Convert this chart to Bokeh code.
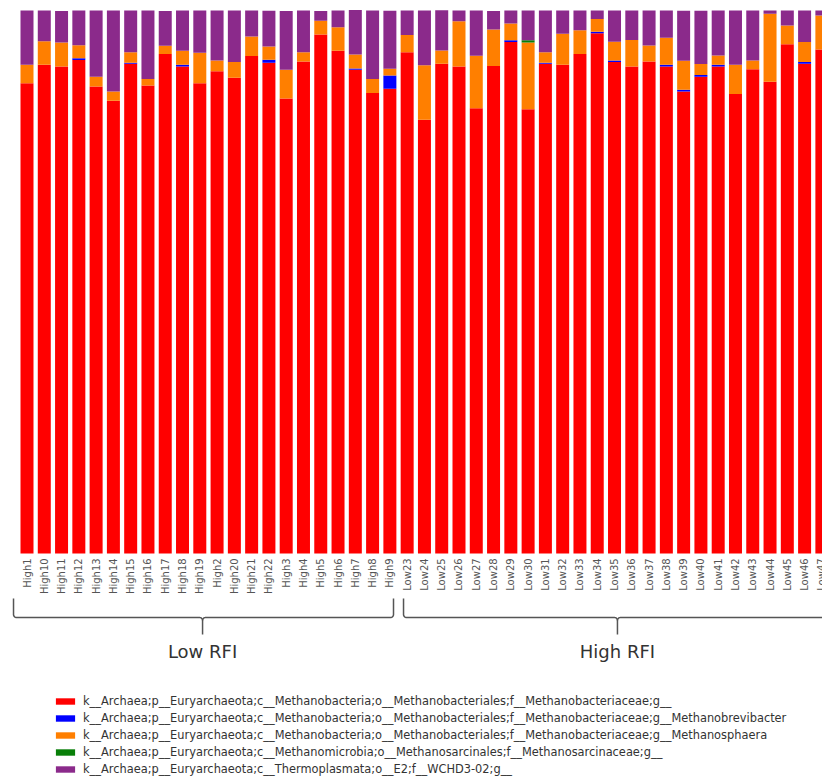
import math
from bokeh.plotting import figure
from bokeh.models import Range1d, Legend, LegendItem, ColumnDataSource
from bokeh.core.properties import value
from bokeh.embed import file_html
from bokeh.resources import INLINE

# ---------------- data ----------------
samples = ["High1", "High10", "High11", "High12", "High13", "High14", "High15", "High16",
           "High17", "High18", "High19", "High2", "High20", "High21", "High22", "High3",
           "High4", "High5", "High6", "High7", "High8", "High9",
           "Low23", "Low24", "Low25", "Low26", "Low27", "Low28", "Low29", "Low30", "Low31",
           "Low32", "Low33", "Low34", "Low35", "Low36", "Low37", "Low38", "Low39", "Low40",
           "Low41", "Low42", "Low43", "Low44", "Low45", "Low46", "Low47"]

# relative abundance, percent
red = [86.6, 90.0, 89.7, 90.9, 86.0, 83.4, 90.2, 86.2, 92.0, 89.7, 86.6, 88.8, 87.6, 91.6,
       90.4, 83.8, 90.6, 95.6, 92.6, 89.1, 84.8, 85.6,
       92.3, 79.9, 90.2, 89.7, 82.0, 89.8, 94.2, 81.8, 90.2, 90.0, 92.0, 95.8, 90.5, 89.7,
       90.6, 89.7, 85.1, 87.8, 89.7, 84.6, 89.2, 86.9, 93.8, 90.2, 92.8]
blue = [0, 0, 0, 0.3, 0, 0, 0.2, 0, 0, 0.3, 0, 0, 0, 0, 0.55, 0, 0, 0, 0, 0.2, 0, 2.45,
        0, 0, 0, 0, 0, 0, 0.3, 0, 0.2, 0, 0, 0.3, 0.3, 0, 0, 0.3, 0.3, 0.3, 0.3, 0, 0,
        0, 0, 0.3, 0]
orange = [3.4, 4.35, 4.4, 2.4, 1.8, 1.7, 1.9, 1.2, 1.5, 2.6, 5.6, 2.0, 2.9, 3.6, 2.4, 5.3,
          1.7, 2.5, 4.3, 2.6, 2.6, 1.2,
          3.2, 10.0, 2.45, 8.3, 9.65, 6.7, 3.1, 12.3, 1.9, 5.7, 4.35, 2.35, 3.45, 4.85, 2.95,
          5.0, 5.35, 2.05, 1.7, 5.4, 1.6, 12.5, 3.45, 3.7, 6.3]
green = [0, 0, 0, 0, 0, 0, 0, 0, 0, 0, 0, 0, 0, 0, 0, 0, 0, 0, 0, 0, 0, 0,
         0, 0, 0, 0, 0, 0, 0, 0.4, 0, 0, 0, 0, 0, 0, 0, 0, 0, 0, 0, 0, 0, 0, 0, 0, 0]
purple = [10.0, 5.65, 5.8, 6.4, 12.2, 14.9, 7.7, 12.6, 6.4, 7.4, 7.8, 9.2, 9.5, 4.8, 6.6,
          10.8, 7.7, 1.8, 3.1, 8.2, 12.6, 10.7,
          4.5, 10.1, 7.4, 2.0, 8.35, 3.4, 2.4, 5.5, 7.7, 4.3, 3.65, 1.55, 5.75, 5.45, 6.45,
          5.0, 9.2, 9.8, 8.3, 10.0, 9.2, 0.6, 2.75, 5.8, 0.9]

taxa = [
    "k__Archaea;p__Euryarchaeota;c__Methanobacteria;o__Methanobacteriales;f__Methanobacteriaceae;g__",
    "k__Archaea;p__Euryarchaeota;c__Methanobacteria;o__Methanobacteriales;f__Methanobacteriaceae;g__Methanobrevibacter",
    "k__Archaea;p__Euryarchaeota;c__Methanobacteria;o__Methanobacteriales;f__Methanobacteriaceae;g__Methanosphaera",
    "k__Archaea;p__Euryarchaeota;c__Methanomicrobia;o__Methanosarcinales;f__Methanosarcinaceae;g__",
    "k__Archaea;p__Euryarchaeota;c__Thermoplasmata;o__E2;f__WCHD3-02;g__",
]
colors = ["#ff0000", "#0000ff", "#ff7f00", "#087f08", "#8b2a8b"]

group_labels = ["Low RFI", "High RFI"]

# ---------------- layout constants (annotation geometry) ----------------
bracket_x0 = [-0.78, 21.79]
bracket_x1 = [21.21, 46.55]
bracket_xc = [10.16, 34.17]
y_hook, y_bar, y_tick, y_text, y_lab = -8.29, -11.79, -14.9, -18.1, -0.9

keys = ["red", "blue", "orange", "green", "purple"]
source = ColumnDataSource(dict(x=list(range(len(samples))), name=samples,
                               red=red, blue=blue, orange=orange, green=green, purple=purple))

p = figure(width=822, height=776, output_backend="svg", toolbar_location=None,
           x_range=Range1d(-1.5336, 46.036), y_range=Range1d(-41.068, 101.842),
           x_axis_location=None, y_axis_location=None, min_border=0,
           outline_line_color=None, tools="")
p.grid.visible = False
p.background_fill_color = "white"

renderers = p.vbar_stack(keys, x="x", width=0.752, color=colors, line_color=None, source=source)

# sample labels
p.text(x="x", y=y_lab, text="name", source=source, angle=math.pi / 2,
       text_align="right", text_baseline="middle", text_font=value("DejaVu Sans"),
       text_font_size="10px", text_color="#555555")

# group brackets
rx, ry = 0.17, 0.55
def arc(cx, cy, a0, a1, n=6):
    return ([cx + rx * math.cos(a0 + (a1 - a0) * k / n) for k in range(n + 1)],
            [cy + ry * math.sin(a0 + (a1 - a0) * k / n) for k in range(n + 1)])

xs, ys = [], []
for x0, x1, xc in zip(bracket_x0, bracket_x1, bracket_xc):
    ax, ay = arc(x0 + rx, y_bar + ry, math.pi, 1.5 * math.pi)
    bx, by = arc(xc - rx, y_bar - ry, 0.5 * math.pi, 0)
    xs.append([x0] + ax + bx + [xc])
    ys.append([y_hook] + ay + by + [y_tick])
    cx_, cy_ = arc(xc + rx, y_bar - ry, math.pi, 0.5 * math.pi)
    dx, dy = arc(x1 - rx, y_bar + ry, 1.5 * math.pi, 2 * math.pi)
    xs.append(cx_ + dx + [x1])
    ys.append(cy_ + dy + [y_hook])
p.multi_line(xs, ys, line_color="#555555", line_width=1.5)

p.text(x=bracket_xc, y=[y_text] * len(bracket_xc), text=group_labels,
       text_align="center", text_baseline="middle", text_font=value("DejaVu Sans"),
       text_font_size="18px", text_color="#333333")

legend = Legend(items=[LegendItem(label=t, renderers=[r]) for t, r in zip(taxa, renderers)],
                location=(53, 0), orientation="vertical", glyph_width=24, glyph_height=8,
                label_height=8, spacing=3, padding=0, margin=0, label_standoff=6,
                label_text_font="DejaVu Sans", label_text_font_size="11.4px",
                label_text_color="#333333", border_line_color=None,
                background_fill_alpha=0)
p.add_layout(legend)

open("out.html", "w").write(file_html(p, INLINE))
